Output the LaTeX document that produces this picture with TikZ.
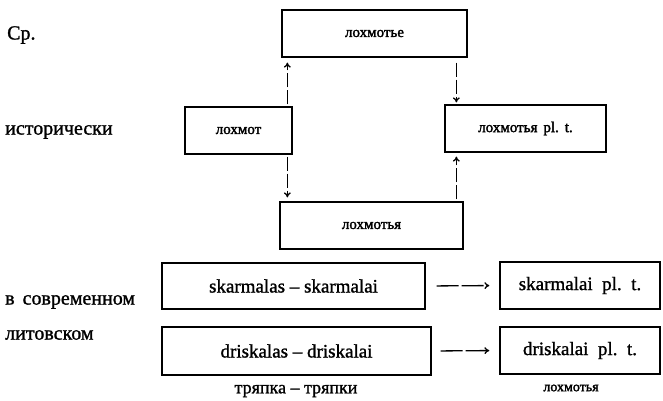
\documentclass[tikz,border=0pt]{standalone}
\usepackage{fontspec}
\setmainfont{Liberation Serif}[FakeBold=1.2]
\newfontfamily\boxfont{Liberation Serif}[FakeBold=2]
\usetikzlibrary{arrows.meta,calc}
\begin{document}
\begin{tikzpicture}[x=1pt,y=-1pt,
  box/.style={draw,line width=1.3pt,rectangle,inner sep=0pt,align=center},
  smalltxt/.style={font=\boxfont\fontsize{15}{17}\selectfont},
  bigtxt/.style={font=\fontsize{19}{21}\selectfont},
  lbl/.style={font=\fontsize{20}{22}\selectfont,anchor=west,inner sep=0pt},
  arr/.style={line width=1.3pt,dash pattern=on 14pt off 3pt,-{To[length=5pt,width=7pt]}},
  harr/.style={line width=1.3pt,dash pattern=on 22pt off 3pt,-{To[length=5pt,width=7pt]}}]
\useasboundingbox (0,0) rectangle (663,401);

% labels
\node[lbl] (cp) at (7,35) {Ср.};
\node[lbl] (hist) at (5,132) {исторически};
\node[lbl] (sovr) at (5,302) {в\hspace{0.4em}современном};
\node[lbl] (lit) at (5,335) {литовском};

% upper boxes
\node[box,smalltxt,minimum width=185pt,minimum height=47pt] (top) at (374.5,33.5) {лохмотье};
\node[box,smalltxt,minimum width=107pt,minimum height=47pt] (lkm) at (238.5,130.5) {лохмот};
\node[box,smalltxt,minimum width=161pt,minimum height=47pt] (plt) at (525.5,128.5) {лохмотья\hspace{0.4em}pl.\hspace{0.4em}t.};
\node[box,smalltxt,minimum width=183pt,minimum height=47pt] (mid) at (371.5,225.5) {лохмотья};

% vertical arrows
\draw[arr,shorten <=2pt,shorten >=5pt] ([xshift=6pt]top.south west |- lkm.north) -- ([xshift=6pt]top.south west);
\draw[arr,shorten <=5pt,shorten >=2pt] ([xshift=12pt]plt.north west |- top.south) -- ([xshift=12pt]plt.north west);
\draw[arr,shorten <=2pt,shorten >=4pt] ([xshift=8pt]mid.north west |- lkm.south) -- ([xshift=8pt]mid.north west);
\draw[arr,shorten <=2pt,shorten >=4pt] ([xshift=12pt]plt.south west |- mid.north) -- ([xshift=12pt]plt.south west);

% lower boxes
\node[box,bigtxt,minimum width=263pt,minimum height=46pt] (skar) at (293.5,286) {skarmalas -- skarmalai};
\node[box,bigtxt,minimum width=160pt,minimum height=47pt] (skarR) at (580,285.5) {skarmalai\hspace{0.5em}pl.\hspace{0.5em}t.};
\node[box,bigtxt,minimum width=269pt,minimum height=48pt] (dris) at (296.5,351) {driskalas -- driskalai};
\node[box,bigtxt,minimum width=160pt,minimum height=47pt] (drisR) at (580,350.5) {driskalai\hspace{0.5em}pl.\hspace{0.5em}t.};

\draw[harr,shorten <=11pt,shorten >=10pt] (skar.east) -- (skarR.west);
\draw[harr,shorten <=9pt,shorten >=10pt] (dris.east) -- (drisR.west);

% bottom captions
\node[font=\fontsize{18}{20}\selectfont,inner sep=0pt] (cap1) at (296,391) {тряпка -- тряпки};
\node[font=\boxfont\fontsize{14}{16}\selectfont,inner sep=0pt] (cap2) at (571,388) {лохмотья};
\end{tikzpicture}
\end{document}
